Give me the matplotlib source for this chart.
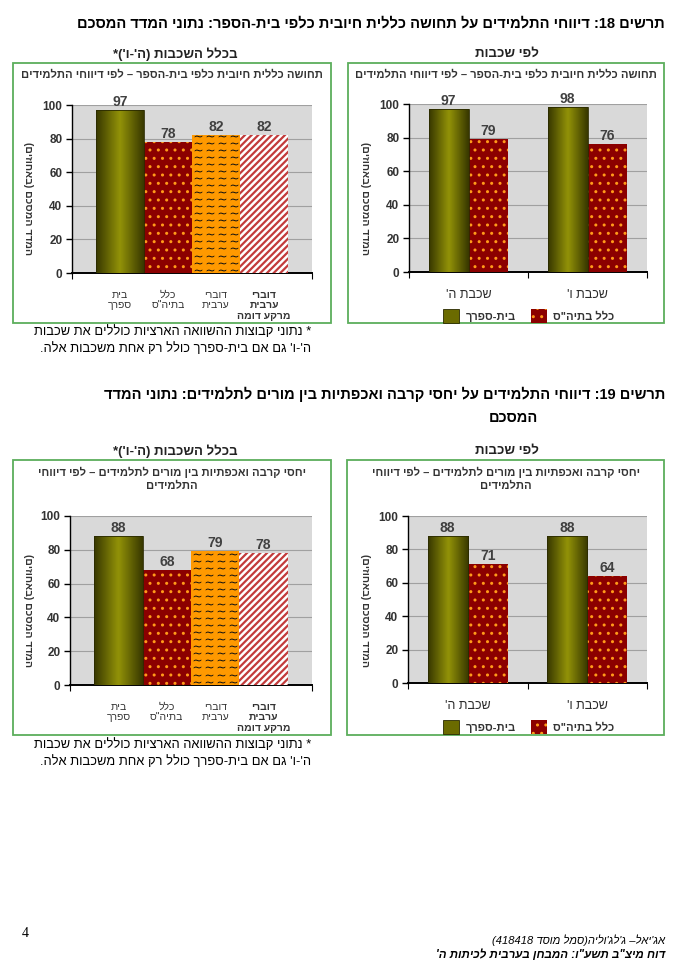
import re
import numpy as np
import matplotlib
matplotlib.use("Agg")
import matplotlib.pyplot as plt
from matplotlib.patches import Rectangle, Patch
from matplotlib.colors import LinearSegmentedColormap

plt.rcParams['font.family'] = ['Liberation Sans', 'DejaVu Sans']

# --- data ---
groups_all = ["בית\nספרך", "כלל\nבתיה\"ס", "דוברי\nערבית", "דוברי\nערבית\nמרקע דומה"]
grades = ["שכבת ה'", "שכבת ו'"]
series_names = ["בית-ספרך", "כלל בתיה\"ס"]

fig18_all = [97, 78, 82, 82]
fig18_school = [97, 98]
fig18_national = [79, 76]

fig19_all = [88, 68, 79, 78]
fig19_school = [88, 88]
fig19_national = [71, 64]

W, H = 680, 972
MIRROR = {'(': ')', ')': '('}


def heb(s):
    # matplotlib has no bidi, so put hebrew lines into visual order by hand
    out = []
    for line in s.split('\n'):
        tokens = re.findall(r'[0-9]+(?:[.,][0-9]+)*|.', line)
        out.append(''.join(MIRROR.get(t, t) for t in tokens[::-1]))
    return '\n'.join(out)


fig = plt.figure(figsize=(W / 100, H / 100), dpi=100)


def rect(x0, y0, x1, y1):
    return [x0 / W, 1 - y1 / H, (x1 - x0) / W, (y1 - y0) / H]


def ftext(x, y, s, **kw):
    kw.setdefault('va', 'center')
    fig.text(x / W, 1 - y / H, heb(s), **kw)


def box(x0, y0, x1, y1):
    fig.patches.append(Rectangle((x0 / W, 1 - y1 / H), (x1 - x0) / W, (y1 - y0) / H,
                                 transform=fig.transFigure, fill=False,
                                 edgecolor='#5cae5c', linewidth=1.3))


olive_cmap = LinearSegmentedColormap.from_list('olive', ['#383800', '#939308', '#383800'])
RED = '#8b0000'
DOT = '#ff9a1a'


def olive_bar(ax, x, h, w):
    b = ax.bar(x, h, w, color='#6b6b00', linewidth=0, zorder=3)
    grad = np.linspace(0, 1, 64).reshape(1, -1)
    for p in b:
        im = ax.imshow(grad, cmap=olive_cmap, aspect='auto', interpolation='bicubic',
                       extent=[p.get_x(), p.get_x() + p.get_width(), 0, p.get_height()],
                       zorder=3.1)
        im.set_clip_path(p)
    ax.bar(x, h, w, facecolor='none', edgecolor='#2a2a00', linewidth=0.6, zorder=3.2)
    return b


def dotted_bar(ax, x, h, w):
    b = ax.bar(x, h, w, color=RED, linewidth=0, zorder=3)
    ax.bar(x, h, w, facecolor='none', edgecolor=DOT, hatch='..', linewidth=0, zorder=3.1)
    return b


def wave_bar(ax, x, h, w):
    b = ax.bar(x, h, w, color='#ff9900', linewidth=0, zorder=3)
    p = b[0]
    xs = np.arange(p.get_x() + w / 8, p.get_x() + w, w / 4)
    ys = np.arange(2, p.get_height(), 4.2)
    gx, gy = np.meshgrid(xs, ys)
    sc = ax.scatter(gx.ravel(), gy.ravel(), marker=r'$\sim$', s=30, color='#111111',
                    linewidths=0, zorder=3.1)
    sc.set_clip_path(p)
    return b


def striped_bar(ax, x, h, w):
    b = ax.bar(x, h, w, color='white', linewidth=0, zorder=3)
    with plt.rc_context({'hatch.linewidth': 1.6}):
        s = ax.bar(x, h, w, facecolor='none', edgecolor='#c23b3b', hatch='/////',
                   linewidth=0, zorder=3.1)
    for p in s:
        if hasattr(p, 'set_hatch_linewidth'):
            p.set_hatch_linewidth(1.6)
    return b


def style_axes(ax):
    ax.set_facecolor('#d9d9d9')
    ax.set_ylim(0, 100)
    ax.set_yticks(range(0, 101, 20))
    ax.yaxis.grid(True, color='#a0a0a0', linewidth=0.8)
    ax.set_axisbelow(True)
    for s in ['top', 'right']:
        ax.spines[s].set_visible(False)
    ax.spines['left'].set_linewidth(1.0)
    ax.spines['bottom'].set_linewidth(1.4)
    ax.tick_params(axis='y', length=4, width=1, labelsize=8.5, labelcolor='#333333', pad=3)
    for lab in ax.get_yticklabels():
        lab.set_fontweight('bold')
    ax.tick_params(axis='x', which='major', length=4, width=0.8, direction='out')
    ax.tick_params(axis='x', which='minor', length=0)


def label_bars(ax, bars):
    for b in bars:
        ax.bar_label(b, padding=1, fontsize=10, fontweight='bold', color='#404040')


def draw_overall(ax, values):
    pos = np.arange(len(values))
    bars = [olive_bar(ax, pos[0], values[0], 1),
            dotted_bar(ax, pos[1], values[1], 1),
            wave_bar(ax, pos[2], values[2], 1),
            striped_bar(ax, pos[3], values[3], 1)]
    style_axes(ax)
    label_bars(ax, bars)
    ax.set_xlim(-1, len(values))
    ax.set_xticks([-1, len(values)])
    ax.set_xticklabels([])
    ax.set_xticks(pos, [heb(g) for g in groups_all], minor=True)
    ax.tick_params(axis='x', which='minor', labelsize=7.5, labelcolor='#333333', pad=12)
    for i, lab in enumerate(ax.get_xticklabels(minor=True)):
        lab.set_linespacing(1.1)
        lab.set_va('top')
        if i == len(values) - 1:
            lab.set_fontweight('bold')


def draw_grades(ax, school, national):
    pos = np.arange(len(grades))
    w = 0.336
    b1 = olive_bar(ax, pos - w / 2, school, w)
    b2 = dotted_bar(ax, pos + w / 2, national, w)
    style_axes(ax)
    label_bars(ax, [b1, b2])
    ax.set_xlim(-0.5, len(grades) - 0.5)
    ax.set_xticks(np.arange(-0.5, len(grades)))
    ax.set_xticklabels([])
    ax.set_xticks(pos, [heb(g) for g in grades], minor=True)
    ax.tick_params(axis='x', which='minor', labelsize=9, labelcolor='#2b2b2b', pad=12)


def legend_at(x, y):
    handles = [Patch(facecolor='#6b6b00', edgecolor='#2a2a00', linewidth=0.6),
               Patch(facecolor=RED, edgecolor=DOT, hatch='..', linewidth=0)]
    fig.legend(handles, [heb(s) for s in series_names], loc='center',
               bbox_to_anchor=(x / W, 1 - y / H), ncol=2, frameon=False,
               prop={'size': 8, 'weight': 'bold'}, handlelength=1.4, handleheight=1.6,
               handletextpad=0.6, columnspacing=1.4, labelcolor='#333333')


ylabel = "המדד המסכם (באחוזים)"

# ---------- figure 18 ----------
ftext(665, 23, "תרשים 18: דיווחי התלמידים על תחושה כללית חיובית כלפי בית-הספר: נתוני המדד המסכם",
      ha='right', fontsize=10.5, fontweight='bold')
ftext(175, 54, "בכלל השכבות (ה'-ו')*", ha='center', fontsize=9.5, fontweight='bold', color='#222222')
ftext(507, 54, "לפי שכבות", ha='center', fontsize=9.5, fontweight='bold', color='#222222')
box(13, 63, 331, 323)
box(348, 63, 664, 323)
t18 = "תחושה כללית חיובית כלפי בית-הספר – לפי דיווחי התלמידים"
ftext(172, 75, t18, ha='center', fontsize=8, fontweight='bold', color='#333333')
ftext(506, 75, t18, ha='center', fontsize=8, fontweight='bold', color='#333333')
ftext(28, 199, ylabel, ha='center', rotation=270, fontsize=7.5, fontweight='bold', color='#333333')
ftext(365, 199, ylabel, ha='center', rotation=270, fontsize=7.5, fontweight='bold', color='#333333')

ax1 = fig.add_axes(rect(72, 105, 312, 273))
draw_overall(ax1, fig18_all)
ax2 = fig.add_axes(rect(409, 104, 647, 272))
draw_grades(ax2, fig18_school, fig18_national)
legend_at(529, 316)

note1 = "* נתוני קבוצות ההשוואה הארציות כוללים את שכבות"
note2 = "ה'-ו' גם אם בית-ספרך כולל רק אחת משכבות אלה."
ftext(311, 332, note1, ha='right', fontsize=9.3)
ftext(311, 349, note2, ha='right', fontsize=9.3)

# ---------- figure 19 ----------
ftext(665, 394, "תרשים 19: דיווחי התלמידים על יחסי קרבה ואכפתיות בין מורים לתלמידים: נתוני המדד",
      ha='right', fontsize=10.5, fontweight='bold')
ftext(538, 418, "המסכם", ha='right', fontsize=10.5, fontweight='bold')
ftext(175, 451, "בכלל השכבות (ה'-ו')*", ha='center', fontsize=9.5, fontweight='bold', color='#222222')
ftext(507, 451, "לפי שכבות", ha='center', fontsize=9.5, fontweight='bold', color='#222222')
box(13, 460, 331, 735)
box(347, 460, 664, 735)
t19 = "יחסי קרבה ואכפתיות בין מורים לתלמידים – לפי דיווחי\nהתלמידים"
ftext(172, 479, t19, ha='center', fontsize=8, fontweight='bold', color='#333333', linespacing=1.3)
ftext(506, 479, t19, ha='center', fontsize=8, fontweight='bold', color='#333333', linespacing=1.3)
ftext(28, 611, ylabel, ha='center', rotation=270, fontsize=7.5, fontweight='bold', color='#333333')
ftext(365, 611, ylabel, ha='center', rotation=270, fontsize=7.5, fontweight='bold', color='#333333')

ax3 = fig.add_axes(rect(70, 516, 312, 685))
draw_overall(ax3, fig19_all)
ax4 = fig.add_axes(rect(408, 516, 647, 683))
draw_grades(ax4, fig19_school, fig19_national)
legend_at(529, 727)

ftext(311, 745, note1, ha='right', fontsize=9.3)
ftext(311, 762, note2, ha='right', fontsize=9.3)

# ---------- footer ----------
fig.text(22 / W, 1 - 933 / H, "4", family='Liberation Serif', fontsize=10, va='center')
ftext(665, 940, "אג'יאל– ג'לג'וליה(סמל מוסד 418418)", ha='right', fontsize=8, style='italic')
ftext(665, 955, "דוח מיצ\"ב תשע\"ו: המבחן בערבית לכיתות ה'", ha='right', fontsize=8.3,
      style='italic', fontweight='bold')

fig.savefig('out.png', dpi=100, facecolor='white')
